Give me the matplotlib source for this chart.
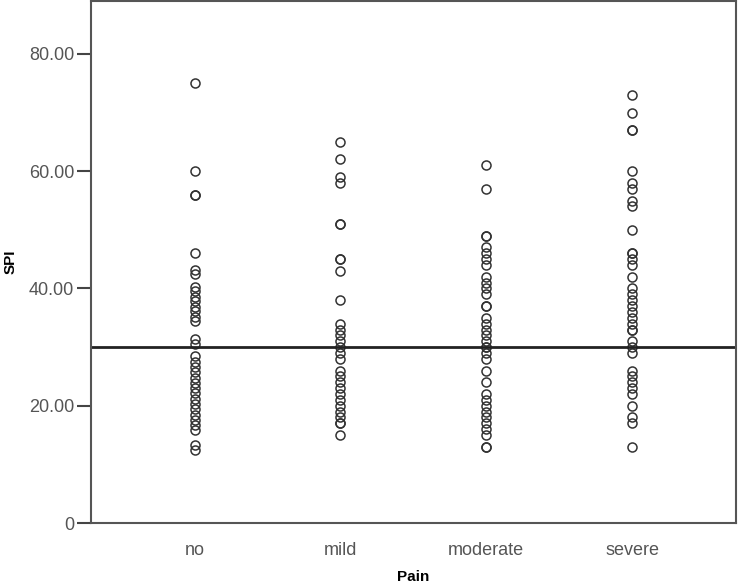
import numpy as np
import matplotlib.pyplot as plt

# Données
categories = ['no', 'mild', 'moderate', 'severe']
spi_no = [75, 60, 56, 56, 46, 43.2, 42.4, 40.3, 39.5, 38.6, 37.8, 36.9, 36.1, 35.2, 34.4,
          31.3, 30.5, 28.4, 27.5, 26.6, 25.7, 24.8, 23.9, 23.0, 22.1, 21.2, 20.3, 19.4,
          18.5, 17.6, 16.7, 15.8, 13.3, 12.4]
spi_mild = [65, 62, 59, 58, 51, 51, 45, 45, 43, 38, 34, 33, 32, 31, 30, 29, 28, 26, 25,
            24, 23, 22, 21, 20, 19, 18, 17, 17, 15]
spi_moderate = [61, 57, 49, 49, 47, 46, 45, 44, 42, 41, 40, 39, 37, 37, 35, 34, 33, 32,
                31, 30, 30, 29, 28, 26, 24, 22, 21, 20, 19, 18, 17, 16, 15, 13, 13]
spi_severe = [73, 70, 67, 67, 60, 58, 57, 55, 54, 50, 46, 46, 45, 44, 42, 40, 39, 38, 37,
              36, 35, 34, 33, 33, 31, 30, 29, 26, 25, 24, 23, 22, 20, 18, 17, 13]
seuil = 30

plt.rcParams['font.family'] = ['Liberation Sans', 'DejaVu Sans']

fig = plt.figure(figsize=(7.38, 5.87), dpi=100)
ax = fig.add_axes([0.1233, 0.109, 0.8737, 0.889])

groupes = [spi_no, spi_mild, spi_moderate, spi_severe]
for i, vals in enumerate(groupes):
    ax.plot([i] * len(vals), vals, linestyle='none', marker='o', markersize=6.5,
            markerfacecolor='none', markeredgecolor='#333333', markeredgewidth=1.1)

ax.axhline(seuil, color='#222222', linewidth=2)

ax.set_xlim(-0.71, 3.71)
ax.set_ylim(0, 89)
ax.set_xticks(range(len(categories)))
ax.set_xticklabels(categories)
ax.set_yticks([0, 20, 40, 60, 80])
ax.set_yticklabels(['0', '20.00', '40.00', '60.00', '80.00'])
ax.tick_params(axis='y', length=10, width=1.5, color='#444444', labelsize=13,
               labelcolor='#555555', pad=2)
ax.tick_params(axis='x', length=0, labelsize=13, labelcolor='#555555', pad=14)
for s in ax.spines.values():
    s.set_color('#555555')
    s.set_linewidth(1.5)

ax.set_ylabel('SPI', fontsize=11, fontweight='bold', va='center')
ax.set_xlabel('Pain', fontsize=11, fontweight='bold', va='center')
ax.yaxis.set_label_coords(-0.125, 0.5)
ax.xaxis.set_label_coords(0.5, -0.103)

fig.savefig('out.png', dpi=100)
